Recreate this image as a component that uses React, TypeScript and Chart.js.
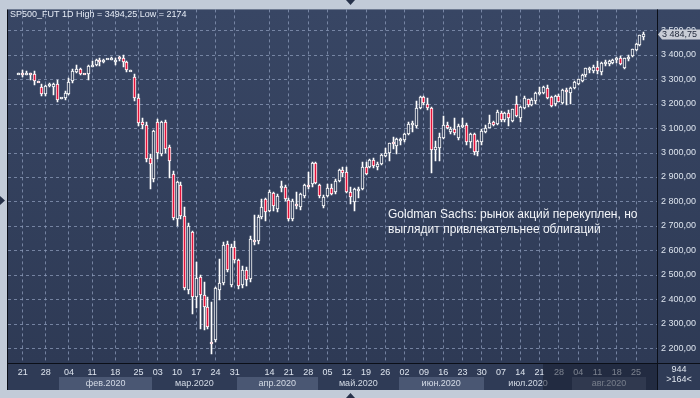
import React, { useEffect, useRef } from 'react';
import { Chart, registerables } from 'chart.js';

Chart.register(...registerables);

// Trading sessions (month-day), in the order shown
const dates = [
  '01-20','01-21','01-22','01-23','01-24','01-26','01-27','01-28','01-29','01-30','01-31',
  '02-02','02-03','02-04','02-05','02-06','02-07','02-09','02-10','02-11','02-12','02-13','02-14',
  '02-16','02-17','02-18','02-19','02-20','02-21','02-23','02-24','02-25','02-26','02-27','02-28',
  '03-02','03-03','03-04','03-05','03-06','03-09','03-10','03-11','03-12','03-13','03-16','03-17',
  '03-18','03-19','03-20','03-23','03-24','03-25','03-26','03-27','03-30','03-31',
  '04-01','04-02','04-03','04-06','04-07','04-08','04-09','04-13','04-14','04-15','04-16','04-17',
  '04-20','04-21','04-22','04-23','04-24','04-27','04-28','04-29','04-30',
  '05-01','05-04','05-05','05-06','05-07','05-08','05-11','05-12','05-13','05-14','05-15','05-18',
  '05-19','05-20','05-21','05-22','05-25','05-26','05-27','05-28','05-29',
  '06-01','06-02','06-03','06-04','06-05','06-08','06-09','06-10','06-11','06-12','06-15','06-16',
  '06-17','06-18','06-19','06-22','06-23','06-24','06-25','06-26','06-29','06-30',
  '07-01','07-02','07-03','07-06','07-07','07-08','07-09','07-10','07-13','07-14','07-15','07-16',
  '07-17','07-20','07-21','07-22','07-23','07-24','07-27','07-28','07-29','07-30','07-31',
  '08-03','08-04','08-05','08-06','08-07','08-10','08-11','08-12','08-13','08-14','08-17','08-18',
  '08-19','08-20','08-21','08-24','08-25','08-26','08-27'
];

const openP = [
  3323,3324,3320,3322,3323,3291,3268,3238,3275,3270,3279,
  3221,3222,3240,3292,3330,3340,3322,3321,3352,3358,3377,3376,
  3382,3384,3372,3390,3386,3372,3334,3308,3222,3125,3113,2978,
  2893,3126,2994,3126,3021,2912,2728,2867,2742,2439,2674,2409,
  2490,2416,2368,2225,2233,2439,2466,2627,2457,2613,
  2559,2457,2518,2484,2643,2640,2738,2810,2760,2835,2770,2857,
  2857,2806,2728,2790,2776,2823,2868,2871,2957,
  2868,2783,2823,2855,2837,2882,2930,2921,2837,2796,2845,2851,
  2939,2939,2969,2939,2953,2986,2996,3042,3025,
  3050,3051,3075,3115,3109,3183,3227,3200,3183,3010,3020,3061,
  3113,3085,3096,3060,3103,3113,3045,3075,3004,3041,
  3085,3102,3126,3116,3163,3132,3163,3130,3200,3140,3181,3217,
  3195,3211,3244,3244,3262,3227,3197,3231,3204,3255,3245,
  3265,3279,3292,3315,3342,3333,3349,3330,3366,3360,3367,3378,
  3387,3346,3382,3393,3421,3439,3471
];

const highP = [
  3326,3337,3332,3326,3335,3293,3280,3276,3285,3285,3295,
  3223,3251,3303,3340,3357,3347,3323,3356,3375,3382,3386,3384,
  3384,3392,3386,3394,3397,3376,3336,3320,3240,3140,3125,2995,
  3092,3136,3130,3135,3030,2925,2885,2880,2776,2710,2680,2554,
  2500,2470,2410,2390,2450,2563,2635,2640,2625,2640,
  2565,2535,2530,2660,2745,2745,2810,2815,2845,2840,2830,2885,
  2866,2812,2810,2840,2835,2872,2920,2960,2962,
  2872,2825,2870,2872,2892,2932,2940,2942,2860,2855,2858,2960,
  2960,2975,2978,2960,2995,3020,3040,3062,3061,
  3058,3080,3125,3130,3211,3232,3232,3222,3186,3048,3080,3150,
  3125,3105,3140,3115,3140,3120,3080,3078,3052,3095,
  3112,3155,3130,3175,3170,3166,3175,3180,3230,3190,3230,3220,
  3222,3248,3268,3272,3275,3232,3234,3238,3258,3265,3268,
  3292,3302,3322,3347,3350,3357,3375,3372,3378,3378,3383,3392,
  3395,3388,3398,3425,3448,3482,3494.25
];

const lowP = [
  3320,3307,3316,3298,3277,3289,3231,3230,3266,3235,3208,
  3220,3216,3235,3285,3327,3316,3320,3298,3349,3355,3355,3368,
  3381,3380,3356,3376,3350,3328,3332,3211,3110,3095,2960,2852,
  2880,2975,2985,3000,2897,2725,2700,2730,2436,2420,2340,2363,
  2280,2273,2280,2174,2225,2396,2460,2510,2450,2550,
  2440,2445,2455,2470,2620,2625,2730,2720,2755,2760,2755,2837,
  2800,2720,2720,2770,2765,2815,2850,2860,2870,
  2815,2775,2818,2825,2830,2878,2900,2835,2790,2760,2815,2848,
  2910,2935,2935,2930,2950,2980,2965,3015,2995,
  3030,3045,3070,3085,3102,3180,3195,3175,2918,2966,2966,3055,
  3095,3075,3070,3050,3100,3030,3020,2990,2985,3030,
  3080,3100,3108,3112,3125,3125,3110,3125,3145,3125,3180,3188,
  3192,3200,3235,3238,3218,3185,3190,3205,3200,3195,3200,
  3260,3275,3290,3310,3325,3325,3320,3315,3355,3352,3362,3365,
  3358,3340,3375,3390,3415,3435,3462
];

const closeP = [
  3324,3321,3321,3320,3292,3290,3238,3272,3277,3281,3214,
  3222,3244,3289,3333,3340,3320,3321,3352,3358,3378,3374,3380,
  3383,3388,3380,3382,3372,3336,3334,3221,3121,3113,2974,2955,
  3088,2996,3126,3015,2966,2733,2878,2742,2446,2701,2409,2487,
  2416,2368,2287,2216,2444,2468,2620,2521,2613,2559,
  2453,2518,2480,2647,2633,2738,2776,2755,2838,2780,2823,2862,
  2810,2728,2803,2780,2830,2868,2860,2957,2874,
  2823,2819,2855,2830,2885,2928,2918,2837,2817,2851,2851,2942,
  2914,2969,2946,2955,2990,2996,3037,3038,3055,
  3052,3076,3118,3118,3183,3227,3204,3181,3010,3023,3064,3113,
  3102,3095,3081,3110,3113,3045,3076,3004,3048,3088,
  3102,3122,3113,3167,3132,3163,3143,3177,3150,3186,3221,3195,
  3215,3244,3247,3268,3224,3192,3231,3208,3255,3250,3262,
  3289,3299,3319,3344,3345,3349,3333,3367,3368,3374,3380,3388,
  3363,3385,3392,3422,3444,3480,3484.75
];

const tickDates = [
  '01-21','01-28','02-04','02-11','02-18','02-25','03-03','03-10','03-17','03-24','03-31',
  '04-14','04-21','04-28','05-05','05-12','05-19','05-26','06-02','06-09','06-16','06-23',
  '06-30','07-07','07-14','07-21','07-28','08-04','08-11','08-18','08-25'
];

const monthNames = ['янв', 'фев', 'мар', 'апр', 'май', 'июн', 'июл', 'авг'];
const shadedMonths = ['02', '04', '06', '08'];
const yTickValues = [2200, 2300, 2400, 2500, 2600, 2700, 2800, 2900, 3000, 3100, 3200, 3300, 3400, 3500];

const headerText = 'SP500_FUT 1D High = 3494,25 Low = 2174';
const noteLines = ['Goldman Sachs: рынок акций перекуплен, но', 'выглядит привлекательнее облигаций'];
const lastPrice = 3484.75;
const footTop = '944';
const footBottom = '>164<';

const FONT = '"Liberation Sans", Arial, sans-serif';

function fmtPrice(v: number): string {
  const whole = Math.floor(v);
  const frac = Math.round((v - whole) * 100);
  const th = Math.floor(whole / 1000);
  const rest = String(whole % 1000).padStart(3, '0');
  return `${th} ${rest},${String(frac).padStart(2, '0')}`;
}

export default function App() {
  const ref = useRef<HTMLCanvasElement>(null);

  useEffect(() => {
    document.body.style.margin = '0';
    const canvas = ref.current;
    if (!canvas) return;

    const idx = dates.map((_, i) => i);
    const bodies = idx.map((i) => ({ x: i, y: [openP[i], closeP[i]] }));
    const wicks = idx.map((i) => ({ x: i, y: [lowP[i], highP[i]] }));
    const bodyColors = idx.map((i) => (closeP[i] < openP[i] ? '#e4123a' : '#33405d'));
    const tickIdx = tickDates.map((d) => dates.indexOf(d));
    const snapX = (v: number) => Math.floor(v) + 0.5;

    const months: { m: string; start: number; end: number }[] = [];
    dates.forEach((d, i) => {
      const m = d.slice(0, 2);
      const last = months[months.length - 1];
      if (!last || last.m !== m) months.push({ m, start: i, end: i });
      else last.end = i;
    });

    const frame = {
      id: 'frame',
      afterDatasetsUpdate(chart: any) {
        chart.data.datasets.forEach((_: any, di: number) => {
          const meta = chart.getDatasetMeta(di);
          meta.data.forEach((el: any) => {
            el.x = snapX(el.x);
            let y = Math.round(el.y);
            let b = Math.round(el.base);
            if (di === 0 && Math.abs(b - y) < 2) {
              const mid = Math.round((y + b) / 2);
              y = mid - 1;
              b = mid + 1;
            }
            el.y = y;
            el.base = b;
          });
        });
      },
      beforeDraw(chart: any) {
        const { ctx, chartArea: a, scales } = chart;
        const W = chart.width, H = chart.height;
        ctx.save();
        ctx.fillStyle = '#c2cbd8';
        ctx.fillRect(0, 0, W, H);
        const g = ctx.createLinearGradient(0, a.top, 0, a.bottom);
        g.addColorStop(0, '#384664');
        g.addColorStop(1, '#2e3a55');
        ctx.fillStyle = g;
        ctx.fillRect(a.left, a.top, W - a.left, a.bottom - a.top);
        ctx.fillStyle = '#2f3b56';
        ctx.fillRect(a.left, a.bottom, W - a.left, 390 - a.bottom);
        const xs = scales.x;
        months.forEach((mo) => {
          if (!shadedMonths.includes(mo.m)) return;
          const x0 = Math.max(a.left, Math.round(xs.getPixelForValue(mo.start - 0.5)));
          const x1 = Math.min(a.right, Math.round(xs.getPixelForValue(mo.end + 0.5)));
          ctx.fillStyle = '#4a5773';
          ctx.fillRect(x0, 377, x1 - x0, 13);
        });
        ctx.fillStyle = '#27324a';
        ctx.beginPath(); ctx.moveTo(346, 0); ctx.lineTo(355, 0); ctx.lineTo(350.5, 5); ctx.closePath(); ctx.fill();
        ctx.beginPath(); ctx.moveTo(346, 398); ctx.lineTo(355, 398); ctx.lineTo(350.5, 393); ctx.closePath(); ctx.fill();
        ctx.beginPath(); ctx.moveTo(0, 196); ctx.lineTo(0, 205); ctx.lineTo(5, 200.5); ctx.closePath(); ctx.fill();
        ctx.restore();
      },
      beforeDatasetsDraw(chart: any) {
        const { ctx, chartArea: a, scales } = chart;
        ctx.save();
        ctx.strokeStyle = 'rgba(140,155,185,0.75)';
        ctx.lineWidth = 1;
        ctx.setLineDash([3, 3]);
        yTickValues.forEach((v) => {
          const y = Math.round(scales.y.getPixelForValue(v)) + 0.5;
          if (y < a.top || y > a.bottom) return;
          ctx.beginPath(); ctx.moveTo(a.left, y); ctx.lineTo(a.right, y); ctx.stroke();
        });
        tickIdx.forEach((i) => {
          const x = snapX(scales.x.getPixelForValue(i));
          ctx.beginPath(); ctx.moveTo(x, a.top); ctx.lineTo(x, a.bottom); ctx.stroke();
        });
        ctx.restore();
      },
      afterDraw(chart: any) {
        const { ctx, chartArea: a, scales } = chart;
        const W = chart.width;
        ctx.save();
        ctx.font = `9px ${FONT}`;
        ctx.textAlign = 'center';
        ctx.textBaseline = 'middle';
        ctx.fillStyle = '#d4dbe6';
        months.forEach((mo) => {
          if (mo.m === '01') return;
          const x0 = Math.max(a.left, scales.x.getPixelForValue(mo.start - 0.5));
          const x1 = Math.min(a.right, scales.x.getPixelForValue(mo.end + 0.5));
          const name = monthNames[parseInt(mo.m, 10) - 1] + '.2020';
          ctx.fillText(name, (x0 + x1) / 2, 383.5);
        });
        ctx.fillStyle = 'rgba(22,28,44,0.5)';
        ctx.fillRect(543, a.bottom, a.right - 543, 390 - a.bottom);
        ctx.fillStyle = '#0b0f18';
        ctx.fillRect(a.right, a.top, 1, 390 - a.top);
        ctx.fillRect(a.left, a.bottom, W - a.left, 1);
        ctx.fillRect(a.left - 1, a.top, 1, 390 - a.top);
        ctx.textAlign = 'left';
        ctx.fillStyle = '#e6ecf6';
        ctx.font = `9px ${FONT}`;
        ctx.fillText(headerText, 10, 15);
        ctx.font = `12px ${FONT}`;
        ctx.fillStyle = '#f2f4f8';
        noteLines.forEach((t, i) => ctx.fillText(t, 388, 215 + i * 15));
        const py = Math.round(scales.y.getPixelForValue(lastPrice));
        ctx.fillStyle = '#c9cdd6';
        ctx.beginPath();
        ctx.moveTo(a.right + 1, py + 0.5);
        ctx.lineTo(a.right + 5, py - 4.5);
        ctx.lineTo(W, py - 4.5);
        ctx.lineTo(W, py + 5.5);
        ctx.lineTo(a.right + 5, py + 5.5);
        ctx.closePath();
        ctx.fill();
        ctx.fillStyle = '#1e2638';
        ctx.font = `9px ${FONT}`;
        ctx.fillText(fmtPrice(lastPrice), 662, py + 0.5);
        ctx.textAlign = 'center';
        ctx.fillStyle = '#dfe5ee';
        ctx.fillText(footTop, 679, 370);
        ctx.fillText(footBottom, 679, 380);
        ctx.restore();
      },
    };

    const chart = new Chart(canvas, {
      type: 'bar',
      data: {
        datasets: [
          {
            data: bodies as any,
            backgroundColor: bodyColors,
            borderColor: '#ffffff',
            borderWidth: 1,
            borderSkipped: false,
            barThickness: 3,
            grouped: false,
            order: 0,
          } as any,
          {
            data: wicks as any,
            backgroundColor: '#ffffff',
            borderWidth: 0,
            barThickness: 1,
            grouped: false,
            order: 1,
          } as any,
        ],
      },
      options: {
        responsive: false,
        animation: false,
        devicePixelRatio: 1,
        events: [],
        layout: { padding: { left: 8, top: 8, right: 0, bottom: 0 } },
        plugins: { legend: { display: false }, tooltip: { enabled: false } },
        scales: {
          x: {
            type: 'linear',
            position: 'bottom',
            min: -0.1,
            max: 162.72,
            grid: { display: false, drawTicks: false },
            border: { display: false },
            afterBuildTicks: (s: any) => {
              s.ticks = tickIdx.map((v) => ({ value: v }));
            },
            afterFit: (s: any) => {
              s.height = 35;
            },
            ticks: {
              autoSkip: false,
              maxRotation: 0,
              minRotation: 0,
              padding: 4,
              color: '#dde4ee',
              font: { family: FONT, size: 9 },
              callback: (v: any) => dates[Math.round(Number(v))]?.slice(3) ?? '',
            },
          },
          y: {
            type: 'linear',
            position: 'right',
            min: 2138.9,
            max: 3585.4,
            grid: { display: false, drawTicks: false },
            border: { display: false },
            afterBuildTicks: (s: any) => {
              s.ticks = yTickValues.map((v) => ({ value: v }));
            },
            afterFit: (s: any) => {
              s.width = 43;
            },
            ticks: {
              padding: 4,
              color: '#dde4ee',
              font: { family: FONT, size: 9 },
              callback: (v: any) => fmtPrice(Number(v)),
            },
          },
        },
      },
      plugins: [frame],
    });

    return () => chart.destroy();
  }, []);

  return (
    <div style={{ width: 700, height: 398, overflow: 'hidden' }}>
      <canvas ref={ref} width={700} height={398} style={{ display: 'block' }} />
    </div>
  );
}
